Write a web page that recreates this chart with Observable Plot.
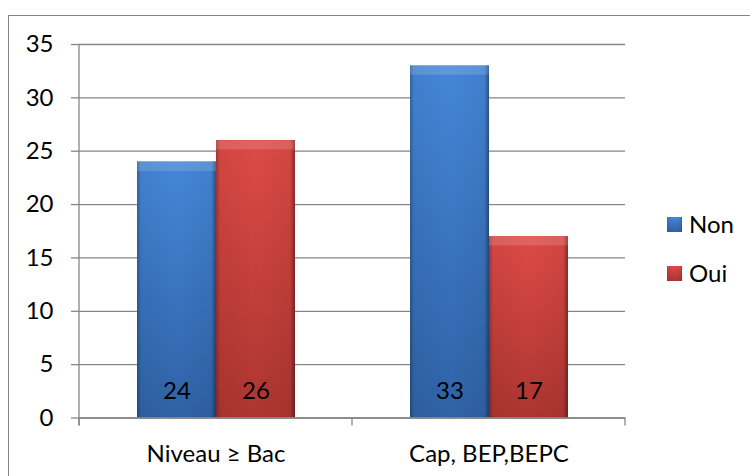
<!DOCTYPE html>
<html>
<head>
<meta charset="utf-8">
<script src="https://cdn.jsdelivr.net/npm/d3@7"></script>
<script src="https://cdn.jsdelivr.net/npm/@observablehq/plot@0.6"></script>
<style>
  html, body { margin: 0; padding: 0; background: #fff; }
  svg { display: block; }
</style>
</head>
<body>
<div id="chart"></div>
<script>
const categories = ["Niveau ≥ Bac", "Cap, BEP,BEPC"];
const series = ["Non", "Oui"];
const nonValues = [24, 33];
const ouiValues = [26, 17];
const yTicks = [0, 5, 10, 15, 20, 25, 30, 35];

const data = categories.flatMap((c, i) => [
  {cat: c, series: "Non", value: nonValues[i]},
  {cat: c, series: "Oui", value: ouiValues[i]}
]);

const gridColor = "#868686";
const FONT = "Lato, 'Open Sans', sans-serif";
const FS = 24;

const common = {fx: "cat", x: "series", y: "value", inset: 0};

const plot = Plot.plot({
  width: 750,
  height: 476,
  marginLeft: 78,
  marginRight: 125,
  marginTop: 44,
  marginBottom: 58.5,
  style: {fontFamily: FONT, fontSize: FS + "px", color: "#000", background: "#fff"},
  fx: {domain: categories, padding: 0, label: null},
  x: {domain: series, paddingInner: 0, paddingOuter: 0.71, axis: null},
  y: {domain: [0, 35], label: null},
  marks: [
    Plot.gridY(yTicks, {stroke: gridColor, strokeOpacity: 1, strokeWidth: 1.3}),
    Plot.axisY(yTicks, {tickSize: 8, tickPadding: 18, stroke: gridColor, strokeWidth: 1.3, fill: "#000", label: null, fontSize: FS}),
    Plot.axisFx({anchor: "bottom", tickSize: 0, tickPadding: 27, label: null, fill: "#000", fontSize: FS}),
    Plot.barY(data.filter(d => d.series === "Non"), {...common, fill: "url(#gradNon)", ariaLabel: "bar-main"}),
    Plot.barY(data.filter(d => d.series === "Oui"), {...common, fill: "url(#gradOui)", ariaLabel: "bar-main"}),
    Plot.barY(data, {...common, fill: "url(#gradEdge)", ariaLabel: "bar-edge"}),
    Plot.tickY(data, {fx: "cat", x: "series", y: "value", stroke: "#fff", strokeOpacity: 0.14, strokeWidth: 9, dy: 4.5}),
    Plot.ruleY([0], {stroke: gridColor, strokeWidth: 1.3}),
    Plot.text(data, {fx: "cat", x: "series", frameAnchor: "bottom", lineAnchor: "middle", dy: -27, text: d => String(d.value), fill: "#000", fontSize: FS})
  ]
});

const svg = d3.select(plot);
const defs = svg.insert("defs", ":first-child");

function vgrad(id, top, bottom) {
  const g = defs.append("linearGradient").attr("id", id).attr("x1", 0).attr("y1", 0).attr("x2", 0).attr("y2", 1);
  g.append("stop").attr("offset", "0%").attr("stop-color", top);
  g.append("stop").attr("offset", "100%").attr("stop-color", bottom);
}
vgrad("gradNon", "#4587d9", "#2f62a6");
vgrad("gradOui", "#de4a46", "#ad3531");

const eg = defs.append("linearGradient").attr("id", "gradEdge").attr("x1", 0).attr("y1", 0).attr("x2", 1).attr("y2", 0);
[["0%", 0.28], ["5%", 0.05], ["50%", 0], ["94%", 0.05], ["100%", 0.4]].forEach(([o, a]) =>
  eg.append("stop").attr("offset", o).attr("stop-color", "#000").attr("stop-opacity", a));

const filt = defs.append("filter").attr("id", "shadow").attr("x", "-20%").attr("y", "-20%").attr("width", "140%").attr("height", "140%");
filt.append("feDropShadow").attr("dx", 3).attr("dy", 3).attr("stdDeviation", 3).attr("flood-color", "#000").attr("flood-opacity", 0.3);
svg.selectAll('g[aria-label="bar-main"]').attr("filter", "url(#shadow)");

// axis decorations derived from the library's scales
const fx = plot.scale("fx");
const y = plot.scale("y");
const y0 = y.apply(0), yTop = y.apply(35);
const bounds = categories.map(c => fx.apply(c));
bounds.push(fx.apply(categories[categories.length - 1]) + fx.bandwidth);
const deco = svg.append("g").attr("stroke", gridColor).attr("stroke-width", 1.3);
deco.append("line").attr("x1", bounds[0]).attr("x2", bounds[0]).attr("y1", yTop).attr("y2", y0 + 8);
bounds.forEach(b => deco.append("line").attr("x1", b).attr("x2", b).attr("y1", y0).attr("y2", y0 + 8));

// chart border
svg.append("rect").attr("x", 8.5).attr("y", 15.5).attr("width", 800).attr("height", 600)
  .attr("fill", "none").attr("stroke", gridColor).attr("stroke-width", 1);

// legend
const lg = svg.append("g").attr("font-family", FONT).attr("font-size", FS).attr("text-anchor", "start");
series.forEach((s, i) => {
  const gy = 217 + i * 49;
  lg.append("rect").attr("x", 667).attr("y", gy).attr("width", 15).attr("height", 15)
    .attr("fill", i === 0 ? "url(#gradNon)" : "url(#gradOui)");
  lg.append("rect").attr("x", 667).attr("y", gy).attr("width", 15).attr("height", 15)
    .attr("fill", "url(#gradEdge)");
  lg.append("text").attr("x", 689).attr("y", gy + 7.5).attr("dy", "0.35em").attr("fill", "#000").text(s);
});

document.getElementById("chart").appendChild(plot);
</script>
</body>
</html>
